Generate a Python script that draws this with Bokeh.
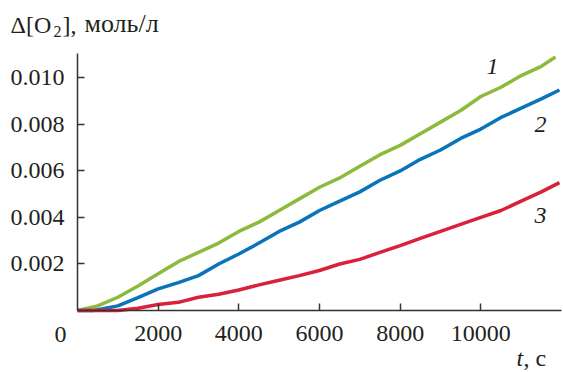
from bokeh.plotting import figure
from bokeh.models import FixedTicker, PrintfTickFormatter, Label, Range1d, LinearAxis
from bokeh.embed import file_html
from bokeh.resources import INLINE

# ---- data ----
t_green = [0, 500, 1000, 1500, 2000, 2500, 3000, 3500, 4000, 4500, 5000, 5500, 6000,
           6500, 7000, 7500, 8000, 8500, 9000, 9500, 10000, 10500, 11000, 11500, 11850]
o2_green = [0.0, 0.0002, 0.00057, 0.00105, 0.00158, 0.0021, 0.0025, 0.0029, 0.0034, 0.0038,
            0.0043, 0.0048, 0.0053, 0.0057, 0.0062, 0.0067, 0.0071, 0.0076, 0.0081, 0.0086,
            0.0092, 0.0096, 0.0101, 0.0105, 0.0109]

t_blue = [0, 400, 700, 1000, 1500, 2000, 2500, 3000, 3500, 4000, 4500, 5000, 5500, 6000,
          6500, 7000, 7500, 8000, 8500, 9000, 9500, 10000, 10500, 11000, 11500, 11950]
o2_blue = [0.0, 0.0, 0.0001, 0.0002, 0.00055, 0.00093, 0.0012, 0.0015, 0.002, 0.00243,
           0.0029, 0.0034, 0.0038, 0.0043, 0.0047, 0.0051, 0.0056, 0.0060, 0.0065, 0.0069,
           0.0074, 0.0078, 0.0083, 0.0087, 0.0091, 0.00948]

t_red = [0, 1000, 1500, 2000, 2500, 3000, 3500, 4000, 4500, 5000, 5500, 6000, 6500, 7000,
         7500, 8000, 8500, 9000, 9500, 10000, 10500, 11000, 11500, 11950]
o2_red = [0.0, 0.0, 0.0001, 0.00026, 0.00035, 0.00057, 0.0007, 0.00088, 0.0011, 0.0013,
          0.0015, 0.00172, 0.0020, 0.0022, 0.0025, 0.00279, 0.0031, 0.0034, 0.0037, 0.0040,
          0.0043, 0.0047, 0.0051, 0.0055]

x_ticks = [2000, 4000, 6000, 8000, 10000]
y_ticks = [0.002, 0.004, 0.006, 0.008, 0.010]
x_max = 12000
y_max = 0.01105

FONT = "Liberation Serif"
W, H = 563, 372
# frame occupies the whole canvas; axes are pinned inside it
X0, X1, YB, YT = 77, 561, 310, 53
sx = (X1 - X0) / x_max
sy = (YB - YT) / y_max

p = figure(width=W, height=H, output_backend="svg", toolbar_location=None,
           x_axis_location=None, y_axis_location=None,
           x_range=Range1d(-X0 / sx, (W - X0) / sx),
           y_range=Range1d(-(H - YB) / sy, YB / sy),
           min_border_left=0, min_border_right=0, min_border_top=0, min_border_bottom=0)
p.outline_line_color = None
p.grid.visible = False
p.background_fill_color = "white"
p.border_fill_color = "white"

xaxis = LinearAxis(fixed_location=0, bounds=(0, x_max), ticker=FixedTicker(ticks=x_ticks),
                   formatter=PrintfTickFormatter(format="%d"))
yaxis = LinearAxis(fixed_location=0, bounds=(0, y_max), ticker=FixedTicker(ticks=y_ticks),
                   formatter=PrintfTickFormatter(format="%.3f"))
for ax in (xaxis, yaxis):
    ax.major_tick_in = 7
    ax.major_tick_out = 0
    ax.minor_tick_line_color = None
    ax.axis_line_color = "#333333"
    ax.axis_line_width = 1.5
    ax.major_tick_line_color = "#333333"
    ax.major_tick_line_width = 1.5
    ax.major_label_text_font = FONT
    ax.major_label_text_font_size = "24px"
    ax.major_label_text_color = "#231f20"
xaxis.major_label_standoff = 15
yaxis.major_label_standoff = 13
p.add_layout(xaxis, "below")
p.add_layout(yaxis, "left")

p.line(t_green, o2_green, line_color="#8cba3c", line_width=3.5)
p.line(t_blue, o2_blue, line_color="#0a74bb", line_width=3.5)
p.line(t_red, o2_red, line_color="#d8223a", line_width=3.5)


def lab(text, px, py, size, style="normal", align="left"):
    # py is the wanted baseline; the rendered baseline sits ~0.37 em lower
    p.add_layout(Label(x=px, y=py - 0.37 * size, x_units="canvas", y_units="canvas",
                       text=text, text_font=FONT,
                       text_font_size=f"{size}px", text_font_style=style,
                       text_align=align, text_baseline="alphabetic",
                       text_color="#231f20"))

# origin label
lab("0", 60, 343, 24, align="center")
# y axis title
lab("Δ[O", 10, 33, 24)
lab("2", 53, 37, 16)
lab("],", 62, 33, 24)
lab("моль/л", 84, 33, 26)
# x axis title
lab("t", 516, 366, 24, style="italic")
lab(", с", 523, 366, 24)
# curve labels
lab("1", 492, 75, 24, style="italic", align="center")
lab("2", 540, 133, 24, style="italic", align="center")
lab("3", 540, 224, 24, style="italic", align="center")

open("out.html", "w").write(file_html(p, INLINE))
